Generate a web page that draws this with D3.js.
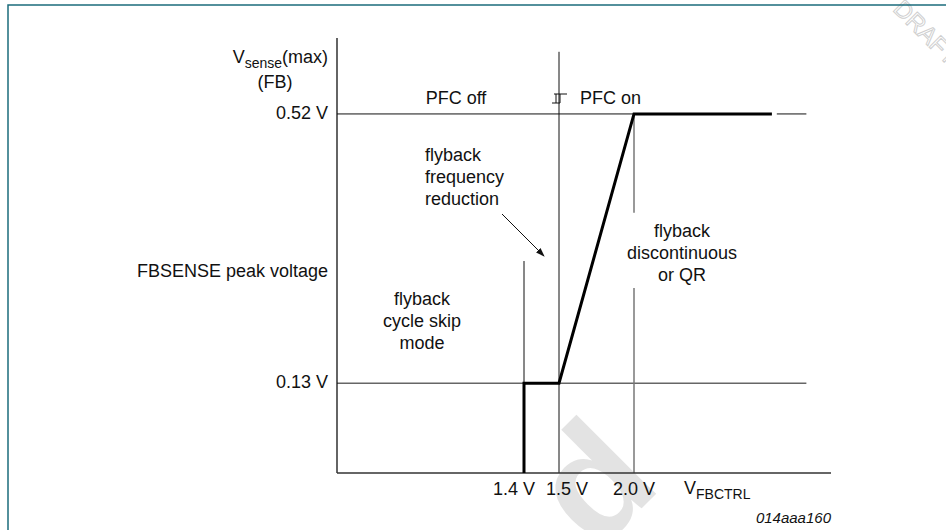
<!DOCTYPE html>
<html lang="en">
<head>
<meta charset="UTF-8">
<title>FBSENSE peak voltage vs VFBCTRL</title>
<script src="https://d3js.org/d3.v7.min.js"></script>
<style>
  body { margin: 0; background: #fff; font-family: "Liberation Sans", Arial, sans-serif; }
  svg text { font-family: "Liberation Sans", Arial, sans-serif; fill: #111; }
</style>
</head>
<body>
<svg id="chart"></svg>
<script>
// --- data ---
const xTicks = [1.4, 1.5, 2.0];
const xTickLabels = ["1.4 V", "1.5 V", "2.0 V"];
const yTicks = [0.13, 0.52];
const yTickLabels = ["0.13 V", "0.52 V"];
// FBSENSE peak voltage characteristic (VFBCTRL, Vsense)
const curveX = [1.4, 1.4, 1.5, 2.0, 2.56];
const curveY = [0, 0.13, 0.13, 0.52, 0.52];

const width = 946, height = 530;
const svg = d3.select("#chart").attr("width", width).attr("height", height);

// schematic axis: not to scale, so piecewise
const x = d3.scaleLinear().domain([0, 1.4, 1.5, 2.0, 2.8]).range([337, 524, 559, 634, 831]);
const y = d3.scaleLinear().domain([0, 0.63]).range([473, 38]);

// watermarks
svg.append("text")
    .attr("transform", "translate(630,520) rotate(-45)")
    .attr("text-anchor", "middle")
    .style("font-size", "155px").style("font-weight", "bold")
    .style("fill", "#e3e3e3")
    .text("d");
svg.append("text")
    .attr("transform", "translate(892,10) rotate(45)")
    .style("font-size", "24px")
    .style("fill", "none").style("stroke", "#cfcfcf").style("stroke-width", 1)
    .text("DRAFT");

// frame
svg.append("path")
    .attr("d", "M8,530 V5 H946")
    .attr("fill", "none").attr("stroke", "#1b6c7c").attr("stroke-width", 1.5);

// guide lines
const guides = [
  { x1: 0, y1: 0.52, x2: 2.0, y2: 0.52, c: "#111", w: 1 },
  { x1: 0, y1: 0.13, x2: 2.70, y2: 0.13, c: "#666", w: 1.5 },
  { x1: 2.58, y1: 0.52, x2: 2.70, y2: 0.52, c: "#111", w: 1 },
  { x1: 1.5, y1: 0, x2: 1.5, y2: 0.61, c: "#111", w: 1 },
  { x1: 1.4, y1: 0.13, x2: 1.4, y2: 0.307, c: "#111", w: 1 },
  { x1: 2.0, y1: 0.52, x2: 2.0, y2: 0.377, c: "#777", w: 1.5 },
  { x1: 2.0, y1: 0, x2: 2.0, y2: 0.268, c: "#777", w: 1.5 }
];
svg.selectAll("line.guide").data(guides).join("line")
    .attr("class", "guide")
    .attr("x1", d => x(d.x1)).attr("y1", d => y(d.y1))
    .attr("x2", d => x(d.x2)).attr("y2", d => y(d.y2))
    .attr("stroke", d => d.c).attr("stroke-width", d => d.w);

// axes
svg.append("line")
    .attr("x1", x(0)).attr("y1", y(0)).attr("x2", x(0)).attr("y2", y(0.63))
    .attr("stroke", "#111").attr("stroke-width", 1.3);
svg.append("line")
    .attr("x1", x(0)).attr("y1", y(0)).attr("x2", x(2.8)).attr("y2", y(0))
    .attr("stroke", "#333").attr("stroke-width", 1.5);

// characteristic
const line = d3.line().x(d => x(d[0])).y(d => y(d[1]));
svg.append("path")
    .datum(curveX.map((v, i) => [v, curveY[i]]))
    .attr("d", line)
    .attr("fill", "none").attr("stroke", "#000").attr("stroke-width", 3)
    .attr("stroke-linejoin", "miter");

// tick labels
const xLabelShift = [-10, 8, 0];
svg.selectAll("text.xl").data(xTicks).join("text")
    .attr("class", "xl")
    .attr("x", (d, i) => x(d) + xLabelShift[i]).attr("y", 495)
    .attr("text-anchor", "middle").style("font-size", "18px")
    .text((d, i) => xTickLabels[i]);
svg.selectAll("text.yl").data(yTicks).join("text")
    .attr("class", "yl")
    .attr("x", 328).attr("y", d => y(d) + 5)
    .attr("text-anchor", "end").style("font-size", "18px")
    .text((d, i) => yTickLabels[i]);

// axis titles
const yt = svg.append("text").attr("x", 328).attr("y", 63)
    .attr("text-anchor", "end").style("font-size", "18px");
yt.append("tspan").text("V");
yt.append("tspan").attr("dy", 5).style("font-size", "14px").text("sense");
yt.append("tspan").attr("dy", -5).text("(max)");
svg.append("text").attr("x", 275).attr("y", 88)
    .attr("text-anchor", "middle").style("font-size", "18px").text("(FB)");
svg.append("text").attr("x", 328).attr("y", 277)
    .attr("text-anchor", "end").style("font-size", "18px").text("FBSENSE peak voltage");

const xt = svg.append("text").attr("x", 684).attr("y", 494).style("font-size", "18px");
xt.append("tspan").text("V");
xt.append("tspan").attr("dy", 5).style("font-size", "14px").text("FBCTRL");

svg.append("text").attr("x", 831).attr("y", 523)
    .attr("text-anchor", "end").style("font-size", "15px").style("font-style", "italic")
    .text("014aaa160");

// region labels
svg.append("text").attr("x", 456).attr("y", 104)
    .attr("text-anchor", "middle").style("font-size", "18px").text("PFC off");
svg.append("text").attr("x", 580).attr("y", 104)
    .style("font-size", "18px").text("PFC on");

// hysteresis symbol
const hx = x(1.5);
svg.append("path")
    .attr("d", `M${hx - 7},103 H${hx + 1} V94 M${hx - 3},103 V94 M${hx - 5},94 H${hx + 8}`)
    .attr("fill", "none").attr("stroke", "#111").attr("stroke-width", 1);

function block(lines, cx, y0, anchor) {
  const t = svg.append("text").attr("text-anchor", anchor).style("font-size", "18px");
  lines.forEach((s, i) => t.append("tspan").attr("x", cx).attr("y", y0 + i * 22).text(s));
}
block(["flyback", "frequency", "reduction"], 425, 161, "start");
block(["flyback", "cycle skip", "mode"], 422, 305, "middle");
block(["flyback", "discontinuous", "or QR"], 682, 237, "middle");

// arrow
svg.append("defs").append("marker")
    .attr("id", "ah").attr("viewBox", "0 0 10 10").attr("refX", 9).attr("refY", 5)
    .attr("markerWidth", 9).attr("markerHeight", 9).attr("orient", "auto")
    .attr("markerUnits", "userSpaceOnUse")
  .append("path").attr("d", "M0,1.5 L10,5 L0,8.5 Z").attr("fill", "#111");
svg.append("line")
    .attr("x1", 502).attr("y1", 214).attr("x2", 544).attr("y2", 256)
    .attr("stroke", "#111").attr("stroke-width", 1)
    .attr("marker-end", "url(#ah)");
</script>
</body>
</html>
